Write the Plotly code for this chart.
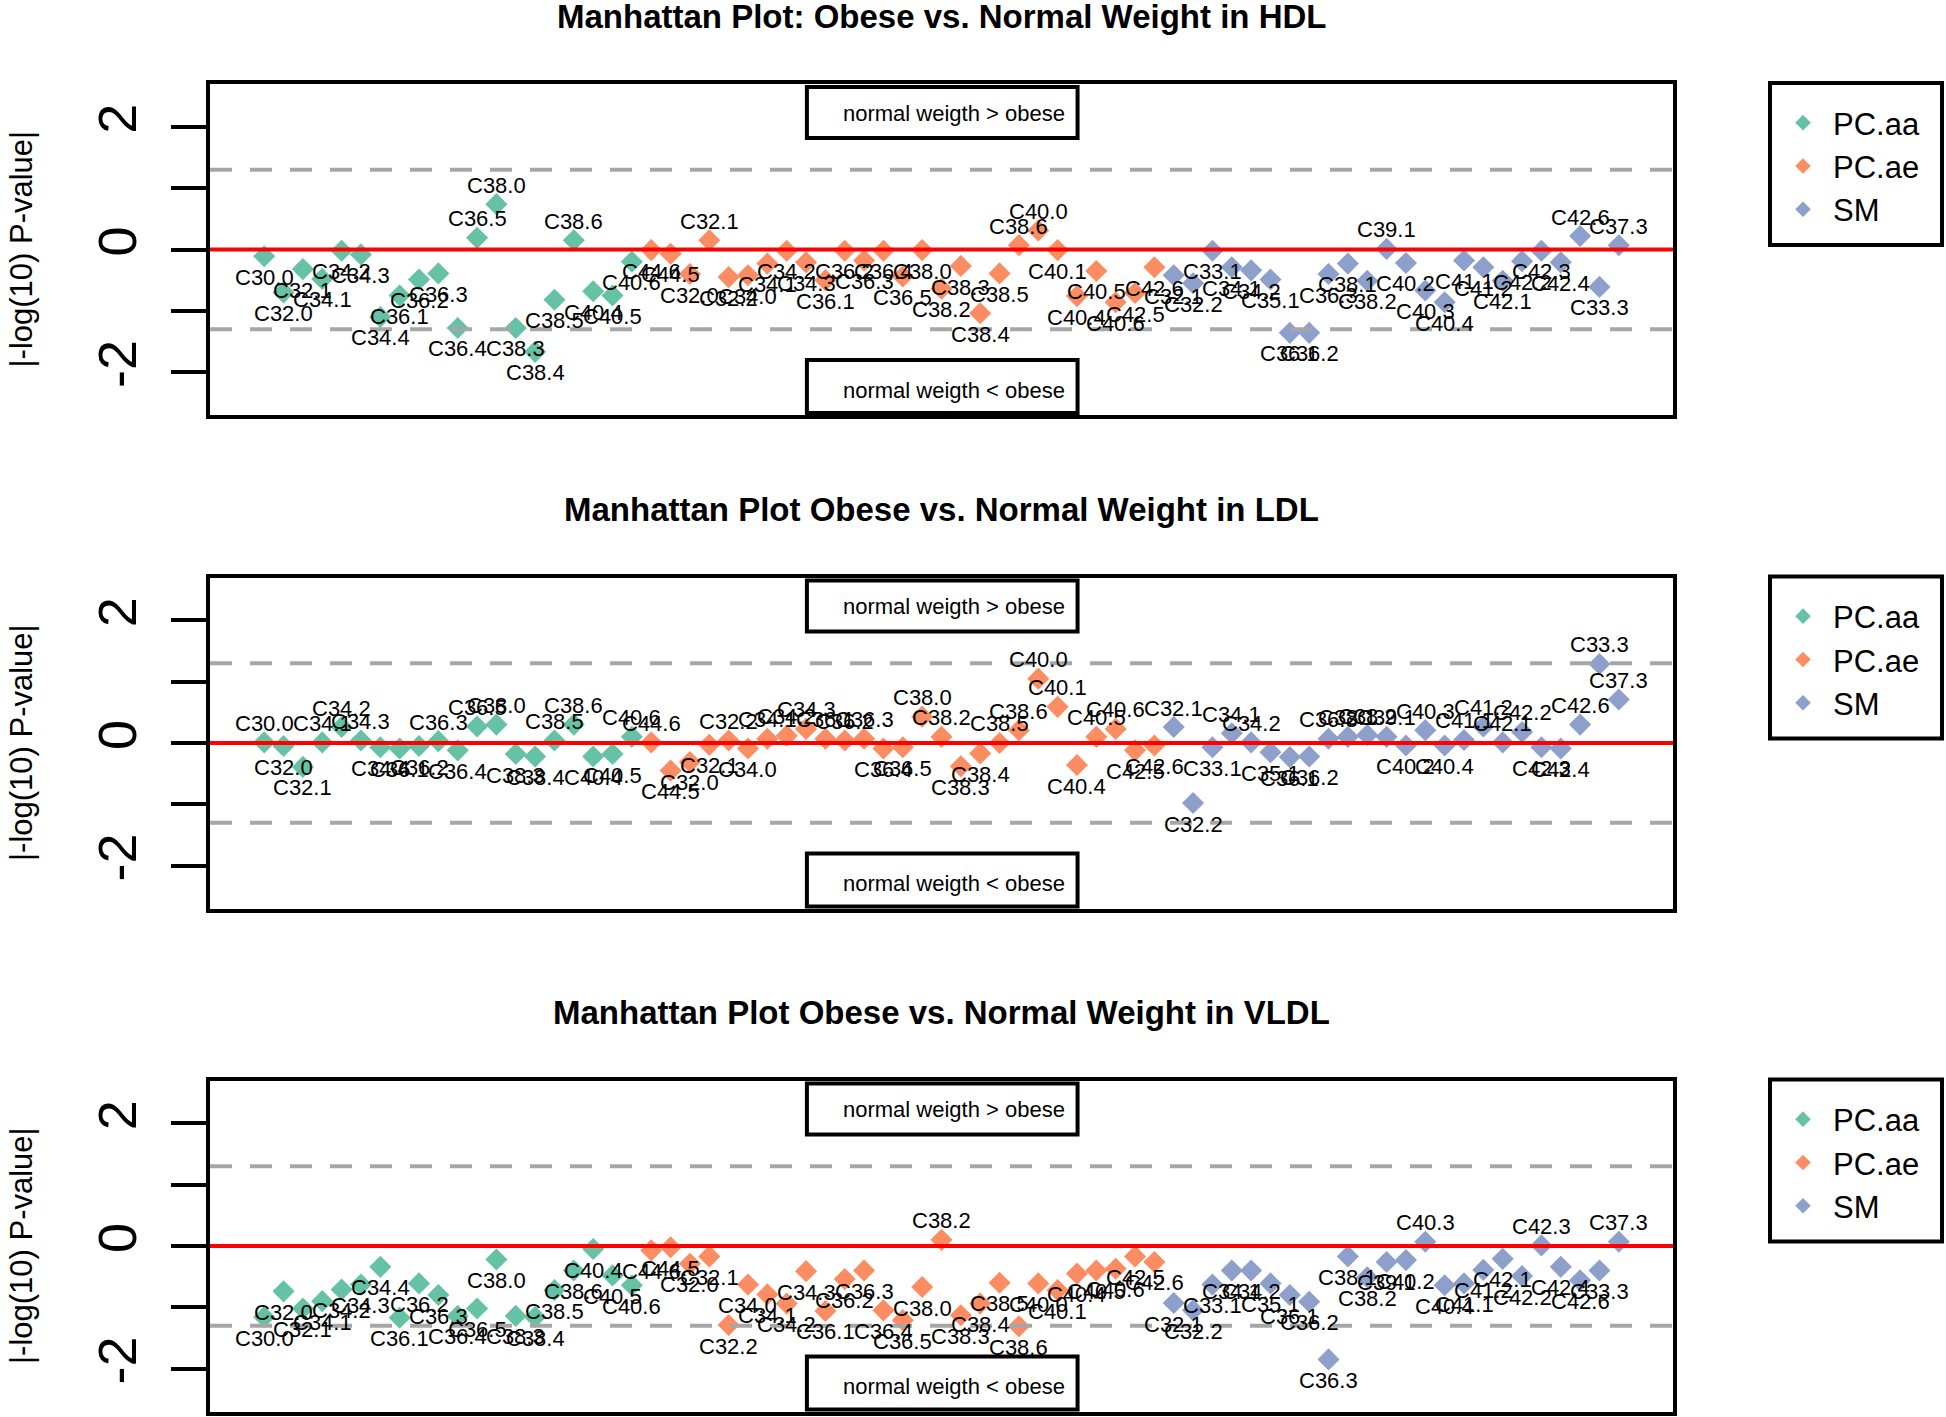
import plotly.graph_objects as go
from plotly.subplots import make_subplots

# metabolite labels per class (x order)
aa_labels = ["C30.0", "C32.0", "C32.1", "C34.1", "C34.2", "C34.3", "C34.4", "C36.1", "C36.2", "C36.3",
             "C36.4", "C36.5", "C38.0", "C38.3", "C38.4", "C38.5", "C38.6", "C40.4", "C40.5", "C40.6"]
ae_labels = ["C44.6", "C44.5", "C32.0", "C32.1", "C32.2", "C34.0", "C34.1", "C34.2", "C34.3", "C36.1",
             "C36.2", "C36.3", "C36.4", "C36.5", "C38.0", "C38.2", "C38.3", "C38.4", "C38.5", "C38.6",
             "C40.0", "C40.1", "C40.4", "C40.5", "C40.6", "C42.5", "C42.6"]
sm_labels = ["C32.1", "C32.2", "C33.1", "C34.1", "C34.2", "C35.1", "C36.1", "C36.2", "C36.3", "C38.1",
             "C38.2", "C39.1", "C40.2", "C40.3", "C40.4", "C41.1", "C41.2", "C42.1", "C42.2", "C42.3",
             "C42.4", "C42.6", "C33.3", "C37.3"]

# signed |-log10 p| values
hdl_aa = [-0.11, -0.70, -0.32, -0.48, -0.02, -0.08, -1.10, -0.75, -0.49, -0.39,
          -1.28, 0.19, 0.74, -1.28, -1.67, -0.82, 0.15, -0.68, -0.75, -0.20]
hdl_ae = [-0.01, -0.07, -0.40, 0.15, -0.45, -0.42, -0.23, -0.02, -0.21, -0.50,
          -0.02, -0.18, -0.02, -0.44, -0.01, -0.64, -0.27, -1.04, -0.39, 0.07,
          0.31, -0.01, -0.76, -0.35, -0.86, -0.71, -0.29]
hdl_sm = [-0.42, -0.55, -0.02, -0.29, -0.34, -0.49, -1.36, -1.36, -0.40, -0.23,
          -0.51, 0.01, -0.22, -0.67, -0.86, -0.18, -0.29, -0.51, -0.19, -0.02,
          -0.21, 0.22, -0.61, 0.07]

ldl_aa = [0.01, -0.05, -0.39, 0.01, 0.26, 0.04, -0.07, -0.09, -0.05, 0.03,
          -0.12, 0.27, 0.30, -0.18, -0.22, 0.04, 0.30, -0.22, -0.18, 0.10]
ldl_ae = [0.01, -0.45, -0.31, -0.03, 0.04, -0.09, 0.07, 0.12, 0.23, 0.07,
          0.04, 0.07, -0.09, -0.07, 0.43, 0.10, -0.38, -0.17, 0.0, 0.21,
          1.05, 0.59, -0.36, 0.10, 0.23, -0.12, -0.04]
ldl_sm = [0.26, -0.98, -0.07, 0.16, 0.01, -0.15, -0.23, -0.22, 0.07, 0.10,
          0.13, 0.10, -0.04, 0.21, -0.04, 0.05, 0.27, 0.01, 0.18, -0.07,
          -0.09, 0.30, 1.29, 0.71]

vldl_aa = [-1.16, -0.74, -1.02, -0.90, -0.71, -0.63, -0.34, -1.17, -0.61, -0.80,
           -1.14, -1.02, -0.22, -1.14, -1.16, -0.72, -0.40, -0.05, -0.48, -0.64]
vldl_ae = [-0.07, -0.02, -0.29, -0.17, -1.29, -0.63, -0.79, -0.94, -0.41, -1.06,
           -0.54, -0.40, -1.05, -1.21, -0.67, 0.10, -1.13, -0.94, -0.60, -1.31,
           -0.61, -0.72, -0.45, -0.40, -0.37, -0.17, -0.26]
vldl_sm = [-0.93, -1.05, -0.63, -0.40, -0.40, -0.61, -0.80, -0.91, -1.85, -0.17,
           -0.51, -0.26, -0.23, 0.07, -0.64, -0.61, -0.39, -0.21, -0.49, 0.01,
           -0.34, -0.56, -0.40, 0.07]

titles = ["Manhattan Plot: Obese vs. Normal Weight in HDL",
          "Manhattan Plot Obese vs. Normal Weight in LDL",
          "Manhattan Plot Obese vs. Normal Weight in VLDL"]
classes = ["PC.aa", "PC.ae", "SM"]
colors = ["#66C2A5", "#FC8D62", "#8DA0CB"]
panels = [[hdl_aa, hdl_ae, hdl_sm], [ldl_aa, ldl_ae, ldl_sm], [vldl_aa, vldl_ae, vldl_sm]]
labels = [aa_labels, ae_labels, sm_labels]
threshold = 1.301  # -log10(0.05)

W, H = 1946, 1417
FONT = "Liberation Sans, Arial, sans-serif"
def px(x): return x / W
def py(y): return 1 - y / H

# panel boxes in pixels
left, right = 210, 1673
tops = [84, 577.5, 1080.5]
ph = 331

fig = make_subplots(rows=3, cols=1)
annotations = []
shapes = []

for r, series in enumerate(panels):
    xs_ref = "x" if r == 0 else "x%d" % (r + 1)
    ys_ref = "y" if r == 0 else "y%d" % (r + 1)
    start = 1
    for k, vals in enumerate(series):
        xs = list(range(start, start + len(vals)))
        start += len(vals)
        fig.add_trace(go.Scatter(
            x=xs, y=vals, mode="markers",
            marker=dict(symbol="diamond", size=17, color=colors[k], line=dict(width=0)),
            name=classes[k],
            legend="legend" if r == 0 else "legend%d" % (r + 1),
            cliponaxis=False,
            hoverinfo="skip",
        ), row=r + 1, col=1)
        # point labels: above for positive values, below for negative
        for xv, yv, lab in zip(xs, vals, labels[k]):
            annotations.append(dict(xref=xs_ref, yref=ys_ref, x=xv, y=yv, text=lab,
                                    showarrow=False, xanchor="center", yanchor="middle",
                                    yshift=19 if yv >= 0 else -21,
                                    font=dict(family=FONT, size=22, color="black")))

fig.update_layout(width=W, height=H, margin=dict(l=0, r=0, t=0, b=0),
                  paper_bgcolor="white", plot_bgcolor="white",
                  font=dict(family=FONT, color="black"))

for r in range(3):
    top = tops[r]
    bottom = top + ph
    xa = "xaxis" if r == 0 else "xaxis%d" % (r + 1)
    ya = "yaxis" if r == 0 else "yaxis%d" % (r + 1)
    fig.layout[xa].update(domain=[px(left), px(right)], range=[-1.8, 73.8],
                          showticklabels=False, ticks="", showgrid=False, zeroline=False,
                          showline=True, mirror=True, linecolor="black", linewidth=4)
    fig.layout[ya].update(domain=[py(bottom), py(top)], range=[-2.7, 2.7],
                          tickvals=[-2, -1, 0, 1, 2], ticktext=["-2", "", "0", "", "2"],
                          ticks="outside", ticklen=35, tickwidth=4, tickcolor="black",
                          tickangle=-90, tickfont=dict(family=FONT, size=54, color="black"),
                          ticklabelstandoff=13,
                          showgrid=False, zeroline=False,
                          showline=True, mirror=True, linecolor="black", linewidth=4)
    xs = "x" if r == 0 else "x%d" % (r + 1)
    ys = "y" if r == 0 else "y%d" % (r + 1)
    # threshold lines and zero line
    for t in (threshold, -threshold):
        shapes.append(dict(type="line", xref=xs + " domain", yref=ys, x0=0, x1=1, y0=t, y1=t,
                           line=dict(color="#A6A6A6", width=4, dash="22px,18px"), layer="above"))
    shapes.append(dict(type="line", xref=xs + " domain", yref=ys, x0=0, x1=1, y0=0, y1=0,
                       line=dict(color="#FF0000", width=4), layer="above"))
    # direction boxes
    for y0, y1, ty, txt in [(0.837, 0.991, 0.912, "normal weigth &gt; obese"),
                            (0.006, 0.166, 0.0755, "normal weigth &lt; obese")]:
        shapes.append(dict(type="rect", xref=xs + " domain", yref=ys + " domain",
                           x0=0.408, x1=0.593, y0=y0, y1=y1,
                           fillcolor="white", line=dict(color="black", width=4), layer="above"))
        annotations.append(dict(xref=xs + " domain", yref=ys + " domain", x=0.586, y=ty,
                                xanchor="right", yanchor="middle", text=txt, showarrow=False,
                                font=dict(family=FONT, size=22, color="black")))
    # title
    annotations.append(dict(xref="paper", yref="paper", x=px((left + right) / 2), y=py(top - 68),
                            xanchor="center", yanchor="middle", showarrow=False,
                            text="<b>%s</b>" % titles[r],
                            font=dict(family=FONT, size=33, color="black")))
    # y axis title
    annotations.append(dict(xref="paper", yref="paper", x=px(21), y=py(top + ph / 2),
                            xanchor="center", yanchor="middle", showarrow=False, textangle=-90,
                            text="|-log(10) P-value|",
                            font=dict(family=FONT, size=31, color="black")))
    # legend frame
    shapes.append(dict(type="rect", xref="paper", yref="paper",
                       x0=px(1770), x1=px(1942), y0=py(top + 161), y1=py(top - 1),
                       line=dict(color="black", width=4), fillcolor="rgba(0,0,0,0)"))
    lg = "legend" if r == 0 else "legend%d" % (r + 1)
    fig.layout[lg] = dict(x=px(1773), y=py(top + 12), xanchor="left", yanchor="top",
                          bgcolor="rgba(0,0,0,0)", borderwidth=0, itemsizing="constant",
                          itemwidth=50,
                          font=dict(family=FONT, size=31, color="black"), tracegroupgap=0)

fig.update_layout(shapes=shapes, annotations=annotations)
fig.write_html("out.html", config={"displayModeBar": False},
               post_script="document.body.style.margin='0px';document.body.style.overflow='hidden';")
